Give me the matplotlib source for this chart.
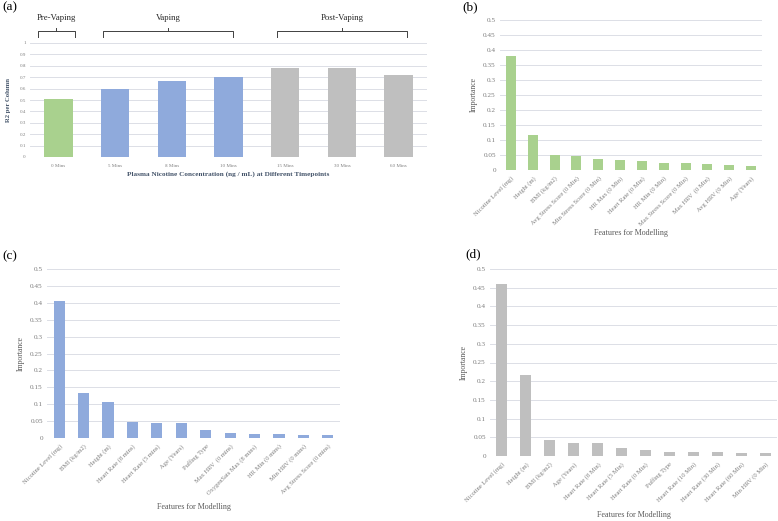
import matplotlib
matplotlib.use("Agg")
import matplotlib.pyplot as plt
import numpy as np

# ---------------- data ----------------
a_categories = ["0 Mins", "5 Mins", "8 Mins", "10 Mins", "15 Mins", "30 Mins", "60 Mins"]
a_values = [0.506, 0.595, 0.668, 0.700, 0.777, 0.783, 0.715]
a_groups = ["pre", "vap", "vap", "vap", "post", "post", "post"]
a_brackets = [("Pre-Vaping", -0.36, 0.29), ("Vaping", 0.79, 3.08), ("Post-Vaping", 3.86, 6.15)]

b_features = ["Nicotine Level (mg)", "Height (m)", "BMI (kg/m2)", "Avg Stress Score (0 Min)",
              "Min Stress Score (0 Min)", "HR Max (0 Min)", "Heart Rate (0 Min)", "HR Min (0 Min)",
              "Max Stress Score (0 Min)", "Max HRV  (0 Min)", "Avg HRV (0 Min)", "Age (Years)"]
b_values = [0.381, 0.117, 0.049, 0.048, 0.038, 0.034, 0.029, 0.024, 0.022, 0.020, 0.018, 0.015]

c_features = ["Nicotine Level (mg)", "BMI (kg/m2)", "Height (m)", "Heart Rate (8 mins)",
              "Heart Rate (5 mins)", "Age (Years)", "Puffing Type", "Max HRV  (0 mins)",
              "OxygenSats Max (8 mins)", "HR Min (0 mins)", "Min HRV (0 mins)", "Avg Stress Score (0 mins)"]
c_values = [0.404, 0.134, 0.106, 0.047, 0.045, 0.044, 0.024, 0.014, 0.012, 0.011, 0.009, 0.009]

d_features = ["Nicotine Level (mg)", "Height (m)", "BMI (kg/m2)", "Age (Years)", "Heart Rate (8 Min)",
              "Heart Rate (5 Min)", "Heart Rate (0 Min)", "Puffing Type", "Heart Rate (10 Min)",
              "Heart Rate (30 Min)", "Heart Rate (60 Min)", "Min HRV (0 Min)"]
d_values = [0.460, 0.217, 0.043, 0.036, 0.034, 0.021, 0.015, 0.012, 0.010, 0.010, 0.008, 0.007]

# ---------------- style ----------------
GREEN = "#a9d18e"
BLUE = "#8faadc"
GRAY = "#bfbfbf"
GRID = "#dcdfe6"
TICK = "#7f7f7f"
group_colors = {"pre": GREEN, "vap": BLUE, "post": GRAY}

plt.rcParams["font.family"] = ["Liberation Serif", "DejaVu Serif"]

W, H = 778, 521
fig = plt.figure(figsize=(W / 100, H / 100), dpi=100)


def px_axes(left, right, top, bottom):
    return fig.add_axes([left / W, 1 - bottom / H, (right - left) / W, (bottom - top) / H])


def style(ax, ymax, step, fs):
    ax.set_ylim(0, ymax)
    ax.set_yticks(np.arange(0, ymax + step / 2, step))
    ax.yaxis.set_major_formatter(matplotlib.ticker.FuncFormatter(lambda v, p: "%g" % round(v, 3)))
    ax.grid(axis="y", color=GRID, lw=0.7)
    ax.set_axisbelow(True)
    for s in ax.spines.values():
        s.set_visible(False)
    ax.tick_params(length=0, labelsize=fs, colors=TICK, pad=3)


# ---------------- (a) ----------------
axa = px_axes(30, 427, 43, 157)
xa = np.arange(len(a_categories))
axa.bar(xa, a_values, width=0.5, color=[group_colors[g] for g in a_groups])
axa.set_xlim(-0.5, len(a_categories) - 0.5)
style(axa, 1.0, 0.1, 3.6)
axa.set_xticks(xa)
axa.set_xticklabels(a_categories)
axa.tick_params(axis="x", pad=5)
axa.set_xlabel("Plasma Nicotine Concentration (ng / mL) at Different Timepoints",
               fontsize=5.2, color="#44546a", fontweight="bold", labelpad=2)
axa.set_ylabel("R2 per Column", fontsize=4.8, color="#44546a", fontweight="bold", labelpad=6)

tr = matplotlib.transforms.blended_transform_factory(axa.transData, fig.transFigure)
for label, x0, x1 in a_brackets:
    yl = 1 - 31 / H
    yb = 1 - 36.5 / H
    yt = 1 - 28 / H
    xm = (x0 + x1) / 2
    axa.plot([x0, x0, x1, x1], [yb, yl, yl, yb], transform=tr, color="#404040", lw=0.7,
             clip_on=False, solid_joinstyle="round")
    axa.plot([xm, xm], [yl, yt], transform=tr, color="#404040", lw=0.7, clip_on=False)
    axa.text(xm, 1 - 18 / H, label, transform=tr, ha="center", va="center", fontsize=6.3,
             color="#262626")

fig.text(2 / W, 1 - 7 / H, "(a)", fontsize=9.5, va="center", ha="left")


def feature_panel(left, right, top, bottom, feats, vals, color, tag, tagxy, xlab_y):
    ax = px_axes(left, right, top, bottom)
    x = np.arange(len(feats))
    ax.bar(x, vals, width=0.46, color=color)
    ax.set_xlim(-0.5, len(feats) - 0.5)
    style(ax, 0.5, 0.05, 5.2)
    ax.set_xticks(x)
    ax.set_xticklabels(feats, rotation=45, ha="right", rotation_mode="anchor", fontsize=4.7)
    ax.tick_params(axis="x", pad=4)
    ax.set_ylabel("Importance", fontsize=5.6, color="#595959", labelpad=4)
    cx = (left + right) / 2
    fig.text(cx / W, 1 - xlab_y / H, "Features for Modelling", fontsize=5.8, color="#595959",
             ha="center", va="center")
    fig.text(tagxy[0] / W, 1 - tagxy[1] / H, tag, fontsize=9.5, va="center", ha="left")
    return ax


feature_panel(500, 762, 20, 170, b_features, b_values, GREEN, "(b)", (462, 7), 233)
feature_panel(47, 340, 269, 438, c_features, c_values, BLUE, "(c)", (2, 256), 507)
feature_panel(490, 777, 269, 456, d_features, d_values, GRAY, "(d)", (465, 254), 515)

fig.savefig("out.png", dpi=100)
